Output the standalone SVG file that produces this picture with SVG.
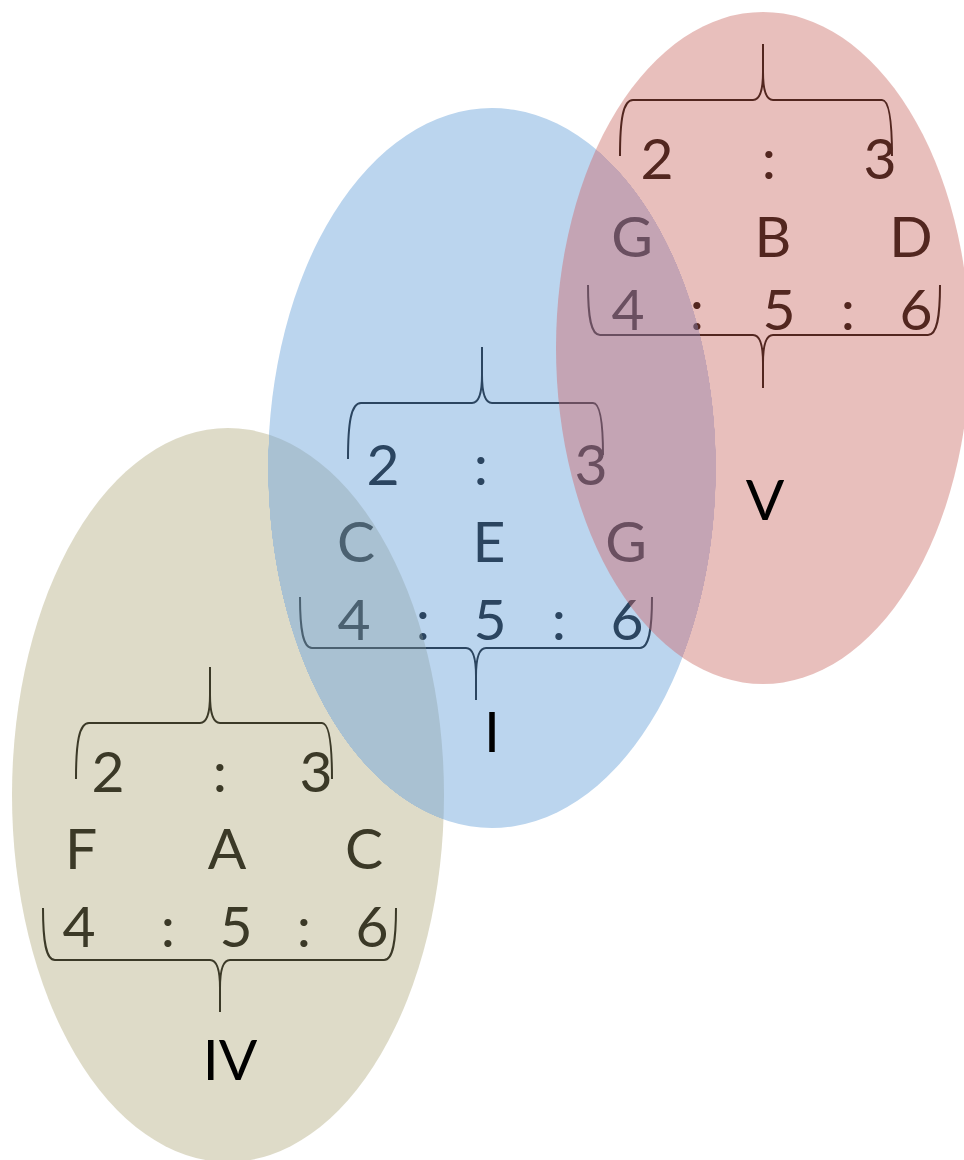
<svg xmlns="http://www.w3.org/2000/svg" width="964" height="1160" viewBox="0 0 964 1160">
<style>
.t{font-family:Lato,"Open Sans","Liberation Sans",sans-serif;font-size:57px;text-anchor:middle}
.lbl{fill:#000}
.br{fill:none;stroke-width:2}
.rT{fill:url(#rTint)}
.rB{stroke:url(#rTint)}
.bT{fill:#2b4560}
.bB{stroke:#2b4560}
.bTR{fill:url(#bInRed)}
.bBR{stroke:url(#bInRed)}
.bTO{fill:url(#bInOlive)}
.bBO{stroke:url(#bInOlive)}
.oT{fill:#3b3927}
.oB{stroke:#3b3927}
</style>
<defs>
<radialGradient id="redFill" gradientUnits="userSpaceOnUse" cx="0" cy="0" r="1" gradientTransform="translate(492 468) scale(224 360)">
<stop offset="0.999" stop-color="#c4a4b4"/><stop offset="1" stop-color="#e8bfbc"/>
</radialGradient>
<radialGradient id="oliveFill" gradientUnits="userSpaceOnUse" cx="0" cy="0" r="1" gradientTransform="translate(492 468) scale(224 360)">
<stop offset="0.999" stop-color="#a9c1d2"/><stop offset="1" stop-color="#dedbc8"/>
</radialGradient>
<radialGradient id="rTint" gradientUnits="userSpaceOnUse" cx="0" cy="0" r="1" gradientTransform="translate(492 468) scale(224 360)">
<stop offset="0.999" stop-color="#6a4f60"/><stop offset="1" stop-color="#52261f"/>
</radialGradient>
<radialGradient id="bInRed" gradientUnits="userSpaceOnUse" cx="0" cy="0" r="1" gradientTransform="translate(763 348) scale(207 336)">
<stop offset="0.999" stop-color="#6a4f60"/><stop offset="1" stop-color="#2b4560"/>
</radialGradient>
<radialGradient id="bInOlive" gradientUnits="userSpaceOnUse" cx="0" cy="0" r="1" gradientTransform="translate(228 795) scale(216 367)">
<stop offset="0.999" stop-color="#4b6171"/><stop offset="1" stop-color="#2b4560"/>
</radialGradient>
</defs>

<g id="ellipses">
<ellipse id="ellipse-I" cx="492" cy="468" rx="224" ry="360" fill="#bbd5ee"/>
<ellipse id="ellipse-V" cx="763" cy="348" rx="207" ry="336" fill="url(#redFill)"/>
<ellipse id="ellipse-IV" cx="228" cy="795" rx="216" ry="367" fill="url(#oliveFill)"/>
</g>

<g id="node-V">
<path class="br rB" d="M620,156 C620,120 623,100 633,100 L753,100 C759,100 763,92 763,72 L763,44 M763,72 C763,92 767,100 773,100 L882,100 C889,100 892,120 892,156"/>
<path class="br rB" d="M588,285 C588,318 591,335 600,335 L753,335 C759,335 763,343 763,363 L763,388 M763,363 C763,343 767,335 773,335 L928,335 C937,335 940,318 940,285"/>
<g class="t">
<text class="rT" x="657" y="179">2</text>
<text class="rT" x="769" y="179">:</text>
<text class="rT" x="880" y="179">3</text>
<text class="rT" x="632" y="257">G</text>
<text class="rT" x="773" y="257">B</text>
<text class="rT" x="911" y="257">D</text>
<text class="rT" x="628" y="330">4</text>
<text class="rT" x="697" y="330">:</text>
<text class="rT" x="779" y="330">5</text>
<text class="rT" x="848" y="330">:</text>
<text class="rT" x="916" y="330">6</text>
<text class="lbl" x="765" y="520">V</text>
</g>
</g>

<g id="node-I">
<path class="br bB" d="M348,459 C348,423 351,403 361,403 L472,403 C478,403 482,395 482,375 L482,347"/>
<path class="br bBR" d="M482,375 C482,395 486,403 492,403 L593,403 C600,403 603,423 603,455"/>
<path class="br bBO" d="M300,597 C300,630 303,648 312,648 L466,648 C472,648 476,656 476,676 L476,700"/>
<path class="br bBR" d="M476,676 C476,656 480,648 486,648 L640,648 C649,648 652,630 652,597"/>
<g class="t">
<text class="bT" x="383" y="485">2</text>
<text class="bT" x="481" y="485">:</text>
<text class="bTR" x="591" y="485">3</text>
<text class="bTO" x="356" y="562">C</text>
<text class="bT" x="489" y="562">E</text>
<text class="bTR" x="626" y="562">G</text>
<text class="bTO" x="354" y="640">4</text>
<text class="bTO" x="423" y="640">:</text>
<text class="bT" x="490" y="640">5</text>
<text class="bTR" x="559" y="640">:</text>
<text class="bTR" x="627" y="640">6</text>
<text class="lbl" x="492" y="752">I</text>
</g>
</g>

<g id="node-IV">
<path class="br oB" d="M76,779 C76,743 79,723 89,723 L200,723 C206,723 210,715 210,695 L210,667 M210,695 C210,715 214,723 220,723 L322,723 C329,723 332,743 332,779"/>
<path class="br oB" d="M43,908 C43,942 46,960 55,960 L210,960 C216,960 220,968 220,988 L220,1012 M220,988 C220,968 224,960 230,960 L384,960 C393,960 396,942 396,908"/>
<g class="t">
<text class="oT" x="108" y="792">2</text>
<text class="oT" x="220" y="792">:</text>
<text class="oT" x="316" y="792">3</text>
<text class="oT" x="81" y="869">F</text>
<text class="oT" x="227" y="869">A</text>
<text class="oT" x="364" y="869">C</text>
<text class="oT" x="79" y="947">4</text>
<text class="oT" x="168" y="947">:</text>
<text class="oT" x="236" y="947">5</text>
<text class="oT" x="304" y="947">:</text>
<text class="oT" x="372" y="947">6</text>
<text class="lbl" x="230" y="1080">IV</text>
</g>
</g>
</svg>
